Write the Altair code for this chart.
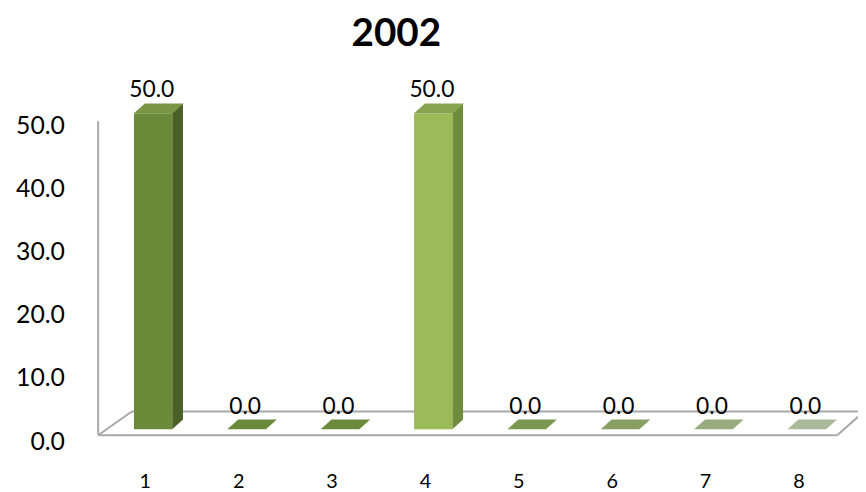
import altair as alt
import pandas as pd

# ---- data ----
title_text = "2002"
categories = [1, 2, 3, 4, 5, 6, 7, 8]
values = [50.0, 0.0, 0.0, 50.0, 0.0, 0.0, 0.0, 0.0]
front_colors = ["#6b8a3a", "#6b8a3a", "#6b8a3a", "#9bbb59", "#7a9850", "#879f63", "#97ab7e", "#a9b99a"]
side_colors = ["#4a6028", "#4a6028", "#4a6028", "#6f8c3c", "#5a7238", "#687c4a", "#75865f", "#838f76"]
top_colors = ["#789646", "#6a8a3a", "#6b8a3b", "#87a550", "#7a9850", "#879f63", "#97ab7e", "#a9b99a"]
y_ticks = [0, 10, 20, 30, 40, 50]

# ---- styling / geometry constants (pixels) ----
W, H = 764, 319
PX_X = W / 8.0
PX_Y = H / 50.0
DEPTH_X, DEPTH_Y = 11, 10
FRONT_L, FRONT_R = -11, 28
FONT = "Lato"
LINE = "#a8a8a8"

bars = pd.DataFrame({
    "cat": categories,
    "value": values,
    "front": front_colors,
    "top": top_colors,
    "label": [f"{v:.1f}" for v in values],
})

side_rows = []
for c, v, col in zip(categories, values, side_colors):
    if v > 0:
        side_rows.append({"cat": c, "x": c + FRONT_R / PX_X, "top": v, "bottom": 0.0, "color": col})
        side_rows.append({"cat": c, "x": c + (FRONT_R + DEPTH_X) / PX_X,
                          "top": v + DEPTH_Y / PX_Y, "bottom": DEPTH_Y / PX_Y, "color": col})
side = pd.DataFrame(side_rows)

xscale = alt.Scale(domain=[0.5, 8.5], nice=False, zero=False)
yscale = alt.Scale(domain=[0, 50], nice=False, zero=True)

x_axis = alt.Axis(values=categories, format="d", ticks=False, domain=False, grid=False,
                  labelFont=FONT, labelFontSize=20, labelColor="black", labelPadding=43, title=None)
y_axis = alt.Axis(values=y_ticks, format=".1f", ticks=False, domain=False, grid=False,
                  labelFont=FONT, labelFontSize=25, labelColor="black", labelPadding=29,
                  labelOffset=12, title=None)

one = pd.DataFrame({"k": [0]})

def edge(x1, dx1, y1, dy1, x2, dx2, y2, dy2):
    return alt.Chart(one).mark_rule(
        stroke=LINE, strokeWidth=2,
        xOffset=dx1, yOffset=dy1, x2Offset=dx2, y2Offset=dy2,
    ).encode(
        x=alt.X(datum=x1, scale=xscale), x2=alt.X2(datum=x2),
        y=alt.Y(datum=y1, scale=yscale), y2=alt.Y2(datum=y2),
    )

left_vertical = edge(0.5, 0, 50, 8, 0.5, 0, 0, 5)
left_diag = edge(0.5, 0, 0, 6, 0.5, 34, 0, -18)
back_line = edge(0.5, 34, 0, -18, 8.5, 19, 0, -18)
right_diag = edge(8.5, -8, 0, 6, 8.5, 19, 0, -18)
front_line = edge(0.5, 0, 0, 6, 8.5, -8, 0, 6)

front = alt.Chart(bars).mark_bar(width=FRONT_R - FRONT_L, xOffset=(FRONT_R + FRONT_L) / 2.0,
                                 strokeWidth=0).encode(
    x=alt.X("cat:Q", scale=xscale, axis=x_axis),
    y=alt.Y("value:Q", scale=yscale, axis=y_axis),
    color=alt.Color("front:N", scale=None),
)

sides = alt.Chart(side).mark_area(opacity=1, strokeWidth=0).encode(
    x=alt.X("x:Q", scale=xscale),
    y=alt.Y("top:Q", scale=yscale),
    y2="bottom:Q",
    detail="cat:N",
    color=alt.Color("color:N", scale=None),
)

# parallelogram top face, path normalised to [-1, 1]
half = (FRONT_R + DEPTH_X - FRONT_L) / 2.0
cx = FRONT_L + half
fl = (FRONT_L - cx) / half
fr = (FRONT_R - cx) / half
bl = (FRONT_L + DEPTH_X - cx) / half
br = (FRONT_R + DEPTH_X - cx) / half
hy = (DEPTH_Y / 2.0) / half
TOP_PATH = f"M {fl:.3f} {hy:.3f} L {fr:.3f} {hy:.3f} L {br:.3f} {-hy:.3f} L {bl:.3f} {-hy:.3f} Z"

tops = alt.Chart(bars).mark_point(shape=TOP_PATH, size=(2 * half) ** 2, filled=True, opacity=1,
                                  strokeWidth=0, xOffset=cx, yOffset=-DEPTH_Y / 2.0).encode(
    x=alt.X("cat:Q", scale=xscale),
    y=alt.Y("value:Q", scale=yscale),
    color=alt.Color("top:N", scale=None),
)

labels = alt.Chart(bars).mark_text(font=FONT, fontSize=23, color="black", dy=-16, xOffset=7,
                                   baseline="alphabetic", align="center").encode(
    x=alt.X("cat:Q", scale=xscale),
    y=alt.Y("value:Q", scale=yscale),
    text="label:N",
)

chart = alt.layer(
    left_diag, back_line, right_diag, front_line, left_vertical,
    sides, front, tops, labels,
).properties(
    width=W, height=H,
    title=alt.TitleParams(title_text, font=FONT, fontSize=39, fontWeight="bold", color="black",
                          anchor="middle", dx=-76, offset=26),
    autosize=alt.AutoSizeParams(type="none"),
    padding={"left": 86, "top": 104, "right": 8, "bottom": 72},
    background="white",
).configure_view(stroke=None)

chart.save("out.html", embed_options={"renderer": "svg", "actions": False})
